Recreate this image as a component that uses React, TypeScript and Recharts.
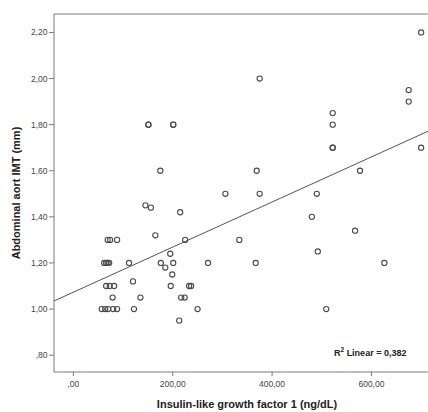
// @ts-nocheck
import { ScatterChart, Scatter, XAxis, YAxis, ReferenceLine } from 'recharts';

// IGF-1 (ng/dL) vs abdominal aort IMT (mm)
const igf1 = [
  57, 64, 70, 80, 88, 122, 250, 509,
  213,
  79, 135, 217, 224,
  66, 73, 82, 196, 233, 237,
  120, 199, 185,
  62, 66, 69, 72, 112, 176, 201, 271, 367, 626,
  195, 492,
  69, 74, 88, 225, 334,
  165, 567, 480, 215, 145, 156,
  306, 375, 490,
  175, 369, 577,
  522, 522, 700,
  151, 151, 201, 201, 522, 522,
  675, 675, 375, 700,
];
const imt = [
  1.0, 1.0, 1.0, 1.0, 1.0, 1.0, 1.0, 1.0,
  0.95,
  1.05, 1.05, 1.05, 1.05,
  1.1, 1.1, 1.1, 1.1, 1.1, 1.1,
  1.12, 1.15, 1.18,
  1.2, 1.2, 1.2, 1.2, 1.2, 1.2, 1.2, 1.2, 1.2, 1.2,
  1.24, 1.25,
  1.3, 1.3, 1.3, 1.3, 1.3,
  1.32, 1.34, 1.4, 1.42, 1.45, 1.44,
  1.5, 1.5, 1.5,
  1.6, 1.6, 1.6,
  1.7, 1.7, 1.7,
  1.8, 1.8, 1.8, 1.8, 1.8, 1.85,
  1.9, 1.95, 2.0, 2.2,
];

const xTicks = [0, 200, 400, 600];
const yTicks = [0.8, 1.0, 1.2, 1.4, 1.6, 1.8, 2.0, 2.2];
const xDomain = [-39, 738];
const yDomain = [0.727, 2.28];

// fitted line end points (x, y)
const fitX = [-39, 738];
const fitY = [1.035, 1.795];

const points = igf1.map((x, i) => ({ x, y: imt[i] }));

// SPSS style numbers: comma decimal, no leading zero
const fmt = (v: number) => {
  const s = v.toFixed(2).replace('.', ',');
  return s.startsWith('0') ? s.slice(1) : s;
};

const FONT = '"Liberation Sans", Arial, sans-serif';
const AXIS = '#7a7a7a';

const Ring = ({ cx, cy }: any) => (
  <circle cx={cx} cy={cy} r={2.6} fill="none" stroke="#4a4a4a" strokeWidth={1.1} />
);

export default function App() {
  return (
    <div style={{ position: 'absolute', left: 0, top: 0, width: 428, height: 412, overflow: 'hidden', background: '#fff', fontFamily: FONT }}>
      <ScatterChart width={450} height={412} margin={{ top: 14, right: 10, bottom: 0, left: 0 }}>
        <XAxis
          type="number"
          dataKey="x"
          domain={xDomain}
          ticks={xTicks}
          allowDataOverflow
          tickFormatter={fmt}
          height={40}
          stroke={AXIS}
          tickSize={4}
          tickMargin={5}
          tick={{ fontSize: 8.5, fill: '#444', fontFamily: FONT }}
          label={{
            content: () => (
              <text x={247} y={408} textAnchor="middle" fontSize={11} fontWeight="bold" fill="#222" fontFamily={FONT}>
                Insulin-like growth factor 1 (ng/dL)
              </text>
            ),
          }}
        />
        <YAxis
          type="number"
          dataKey="y"
          domain={yDomain}
          ticks={yTicks}
          allowDataOverflow
          tickFormatter={fmt}
          width={54}
          stroke={AXIS}
          tickSize={5}
          tickMargin={1.5}
          tick={{ fontSize: 8.5, fill: '#444', fontFamily: FONT }}
          label={{
            content: () => (
              <text x={20} y={193} transform="rotate(-90 20 193)" textAnchor="middle" fontSize={11} fontWeight="bold" fill="#222" fontFamily={FONT}>
                Abdominal aort IMT (mm)
              </text>
            ),
          }}
        />
        <ReferenceLine y={yDomain[1]} stroke={AXIS} strokeWidth={1} ifOverflow="visible" />
        <ReferenceLine
          segment={[{ x: fitX[0], y: fitY[0] }, { x: fitX[1], y: fitY[1] }]}
          stroke="#555"
          strokeWidth={1}
          ifOverflow="hidden"
        />
        <Scatter data={points} shape={Ring} isAnimationActive={false} />
      </ScatterChart>
      <div style={{ position: 'absolute', left: 334, top: 348, fontSize: 9, fontWeight: 'bold', color: '#222', whiteSpace: 'nowrap' }}>
        R<sup style={{ fontSize: 6.5, verticalAlign: 'top', position: 'relative', top: -2 }}>2</sup> Linear = 0,382
      </div>
    </div>
  );
}
